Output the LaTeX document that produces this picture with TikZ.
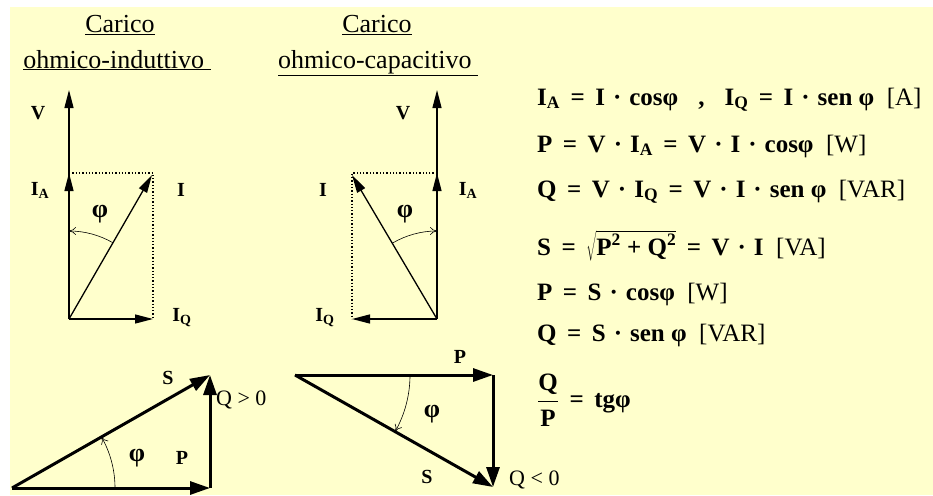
\documentclass[tikz,border=0pt]{standalone}
\usepackage{fix-cm}
\usepackage{fontspec}
\setmainfont{Liberation Serif}
\usetikzlibrary{arrows.meta,calc}
\definecolor{paper}{RGB}{255,255,204}
\newcommand\dt{\hspace{0.32em}·\hspace{0.32em}}
\newcommand\eq{\hspace{0.42em}=\hspace{0.42em}}
\tikzset{
  vec/.style={line width=1.3pt,-{Triangle[length=18pt,width=9pt]}},
  bigvec/.style={line width=3pt,-{Triangle[length=20pt,width=13pt]}},
  proj/.style={line width=1.3pt,dotted},
  angarc/.style={line width=0.6pt,-{To[length=7pt,width=8pt]}},
  lbl/.style={font=\fontsize{20}{22}\selectfont\bfseries,inner sep=0pt},
  phi/.style={font=\fontsize{26}{28}\selectfont\bfseries,inner sep=0pt},
  title/.style={font=\fontsize{26}{28}\selectfont,anchor=base,inner sep=0pt},
  eqn/.style={font=\fontsize{25}{28}\selectfont\bfseries,anchor=base west,inner sep=0pt}
}
\begin{document}
\begin{tikzpicture}[x=1pt,y=-1pt]
\useasboundingbox (0,0) rectangle (933,495);
\fill[paper] (10,7) rectangle (933,495);
% titles
\node[title] (t1a) at (120,33) {\underline{Carico}};
\node[title] (t1b) at (117,68) {\underline{ohmico-induttivo\ }};
\node[title] (t2a) at (377,33) {\underline{Carico}};
\node[title] (t2b) at (378,68) {\underline{ohmico-capacitivo\ }};
% carico ohmico-induttivo
\coordinate (oL) at (69,319);
\coordinate (vL) at (69,90);
\coordinate (iaL) at (69,173);
\coordinate (iL) at (152,175);
\coordinate (iqL) at (153,319);
\coordinate (cL) at (153,173);
\draw[proj] (iaL) -- (cL) -- (iqL);
\draw[vec] (oL) -- (vL);
\draw[vec] (oL) -- (iaL);
\draw[vec] (oL) -- (iL);
\draw[vec] (oL) -- (iqL);
\draw[angarc] ($(oL)+(-60:88)$) arc[start angle=-60,end angle=-90,radius=88];
\node[lbl] (vLl) at (38,113) {V};
\node[lbl] (iaLl) at (40,190) {I\textsubscript{A}};
\node[lbl] (iLl) at (181,190) {I};
\node[phi] (fL) at (100,214) {φ};
\node[lbl] (iqLl) at (182,318) {I\textsubscript{Q}};
% carico ohmico-capacitivo
\coordinate (oR) at (437,319);
\coordinate (vR) at (437,90);
\coordinate (iaR) at (437,173);
\coordinate (iR) at (352,175);
\coordinate (iqR) at (352,319);
\coordinate (cR) at (352,173);
\draw[proj] (iaR) -- (cR) -- (iqR);
\draw[vec] (oR) -- (vR);
\draw[vec] (oR) -- (iaR);
\draw[vec] (oR) -- (iR);
\draw[vec] (oR) -- (iqR);
\draw[angarc] ($(oR)+(-120.6:88)$) arc[start angle=-120.6,end angle=-90,radius=88];
\node[lbl] (vRl) at (403,113) {V};
\node[lbl] (iaRl) at (468,190) {I\textsubscript{A}};
\node[lbl] (iRl) at (323,190) {I};
\node[phi] (fR) at (405,214) {φ};
\node[lbl] (iqRl) at (325,318) {I\textsubscript{Q}};
% triangolo delle potenze, Q > 0
\coordinate (a1) at (12,488);
\coordinate (b1) at (210,488);
\coordinate (c1) at (210,375);
\draw[bigvec] (a1) -- (b1);
\draw[bigvec] (b1) -- (c1);
\draw[bigvec] (a1) -- (c1);
\draw[angarc] ($(a1)+(0:103)$) arc[start angle=0,end angle=-29.7,radius=103];
\node[lbl] (s1) at (168,378) {S};
\node[lbl,font=\fontsize{22}{24}\selectfont,anchor=west] (q1) at (216,400) {Q > 0};
\node[phi] (f1) at (137,458) {φ};
\node[lbl] (p1) at (182,458) {P};
% triangolo delle potenze, Q < 0
\coordinate (a2) at (295,375);
\coordinate (b2) at (493,375);
\coordinate (c2) at (493,487);
\draw[bigvec] (a2) -- (b2);
\draw[bigvec] (b2) -- (c2);
\draw[bigvec] (a2) -- (c2);
\draw[angarc] ($(a2)+(0:115)$) arc[start angle=0,end angle=29.5,radius=115];
\node[lbl] (p2) at (460,357) {P};
\node[phi] (f2) at (432,414) {φ};
\node[lbl] (s2) at (427,477) {S};
\node[lbl,font=\fontsize{22}{24}\selectfont,anchor=west] (q2) at (509,480) {Q < 0};
% formule
\node[eqn] (e1) at (537,105) {I\textsubscript{A}\eq I\dt cosφ\hspace{0.8em},\hspace{0.8em}I\textsubscript{Q}\eq I\dt sen φ\ \ \textmd{[A]}};
\node[eqn] (e2) at (537,152) {P\eq V\dt I\textsubscript{A}\eq V\dt I\dt cosφ\ \ \textmd{[W]}};
\node[eqn] (e3) at (537,197) {Q\eq V\dt I\textsubscript{Q}\eq V\dt I\dt sen φ\ \ \textmd{[VAR]}};
\node[eqn] (e4) at (537,255) {S\eq $\sqrt{\mbox{P\textsuperscript{2} + Q\textsuperscript{2}}}$\eq V\dt I\ \ \textmd{[VA]}};
\node[eqn] (e5) at (537,300) {P\eq S\dt cosφ\ \ \textmd{[W]}};
\node[eqn] (e6) at (537,341) {Q\eq S\dt sen φ\ \ \textmd{[VAR]}};
\node[eqn] (e7) at (537,407) {${\displaystyle\frac{\mbox{Q}\rule[-5pt]{0pt}{0pt}}{\rule{0pt}{24pt}\mbox{P}}}$\eq tgφ};
\end{tikzpicture}
\end{document}
